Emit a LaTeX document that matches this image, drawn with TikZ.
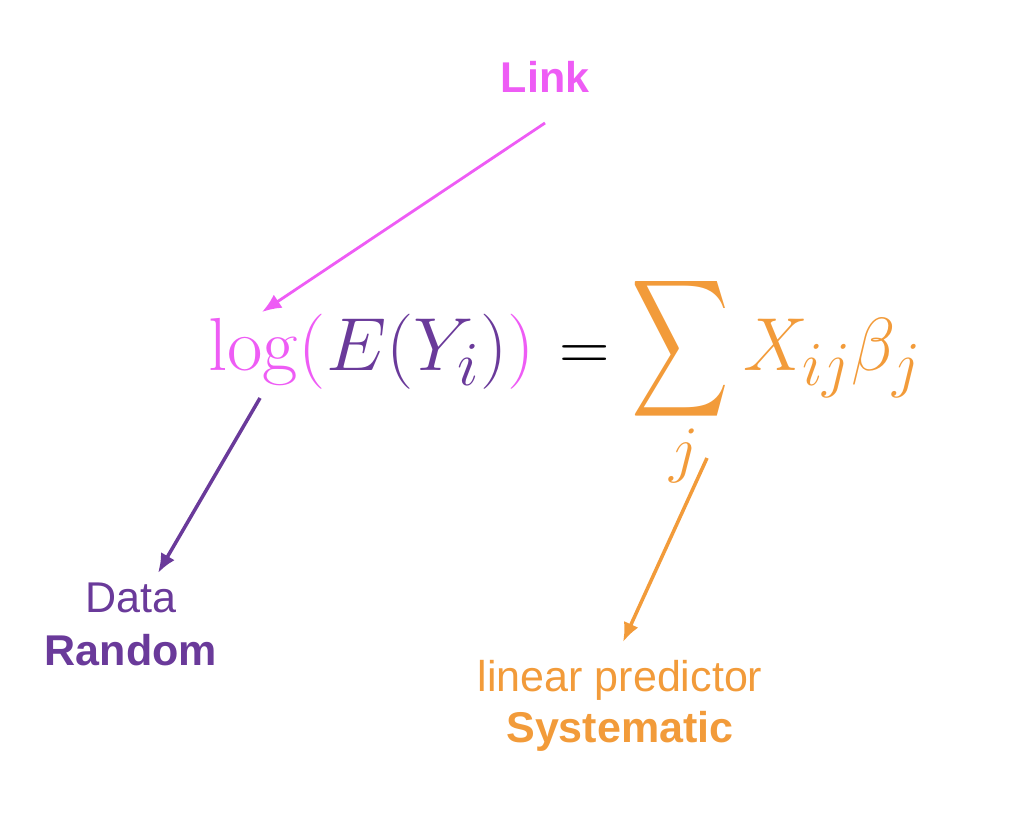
\documentclass[tikz,border=0pt]{standalone}
\usepackage[no-math]{fontspec}
\setmainfont{Liberation Sans}
\usepackage{amsmath}
\usepackage{graphicx}
\usetikzlibrary{arrows.meta}
\definecolor{linkc}{HTML}{EE5CF5}
\definecolor{datac}{HTML}{6A3A9A}
\definecolor{sysc}{HTML}{F29B3A}
\tikzset{
  lbl/.style={inner sep=0pt, font=\fontsize{24.5}{29}\selectfont},
  mth/.style={inner sep=0pt, font=\fontsize{24.88}{30}\selectfont},
  arr/.style={line width=2pt, -{Latex[length=11pt,width=9pt]}},
}
\begin{document}
\begin{tikzpicture}[x=0.02cm,y=-0.02cm]
\useasboundingbox (0,0) rectangle (1026,816);
% labels
\node[lbl, text=linkc, font=\fontsize{24.5}{29}\selectfont\bfseries] (link) at (545,77) {Link};
\node[lbl, text=datac] (data) at (131,598) {Data};
\node[lbl, text=datac, font=\fontsize{24.5}{29}\selectfont\bfseries] (random) at (131,650) {Random};
\node[lbl, text=sysc] (linpred) at (620,680) {linear predictor};
\node[lbl, text=sysc, font=\fontsize{24.5}{29}\selectfont\bfseries] (syst) at (620,731) {Systematic};
% formula
\node[mth, anchor=base west] (lhs) at (208,370) {\scalebox{1.76}[1.72]{$\color{linkc}\log(\color{datac}E(Y_i)\color{linkc})$}};
\node[mth, anchor=base] (eq) at (585,370) {\scalebox{1.6}{$=$}};
\node[mth, text=sysc] (sum) at (680,349) {\scalebox{1.55}[2.2]{$\displaystyle\sum$}};
\node[mth, text=sysc, anchor=base] (jsub) at (684,470) {\scalebox{1.45}{$j$}};
\node[mth, text=sysc, anchor=base west] (rhs) at (743,370) {\scalebox{1.66}[1.72]{$X_{ij}\beta_j$}};
% connector ends
\coordinate (linkstart) at (545,123);
\coordinate (logtip) at (262,312);
\coordinate (logstart) at (260,398);
\coordinate (datatip) at (158,573);
\coordinate (jstart) at (707,458);
\coordinate (systip) at (623,642);
% arrows
\draw[arr, draw=linkc, fill=linkc, line width=1.6pt] (linkstart) -- (logtip);
\draw[arr, draw=datac, fill=datac] (logstart) -- (datatip);
\draw[arr, draw=sysc, fill=sysc] (jstart) -- (systip);
\end{tikzpicture}
\end{document}
